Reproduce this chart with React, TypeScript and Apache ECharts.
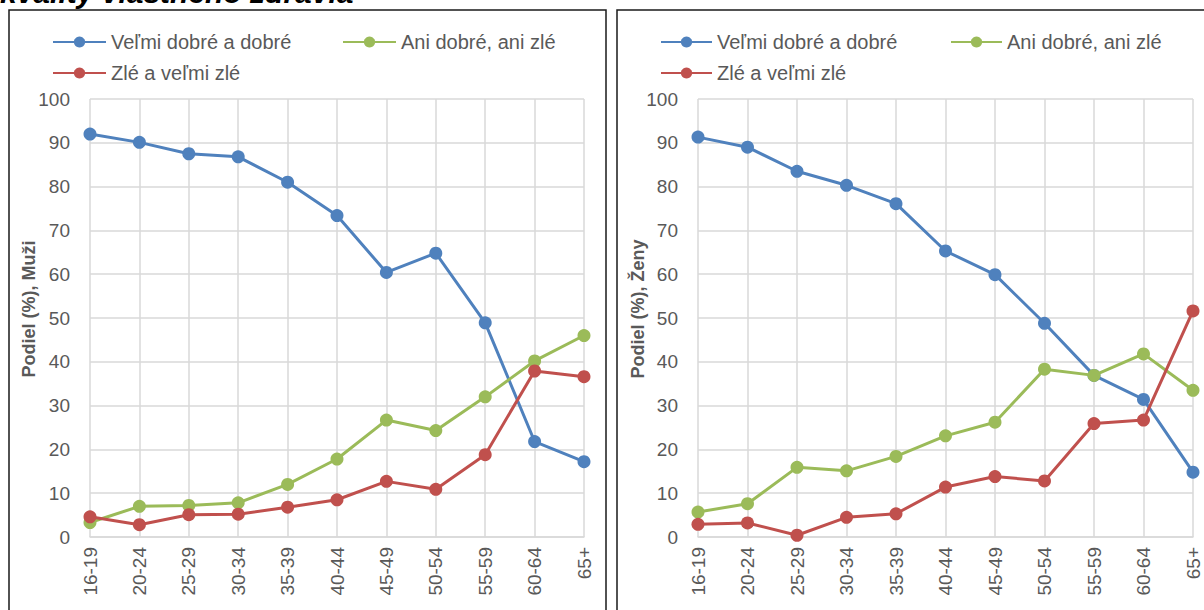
import React, { useEffect, useRef } from "react";
import * as echarts from "echarts";

const categories = ["16-19", "20-24", "25-29", "30-34", "35-39", "40-44", "45-49", "50-54", "55-59", "60-64", "65+"];
const seriesNames = ["Veľmi dobré a dobré", "Ani dobré, ani zlé", "Zlé a veľmi zlé"];

const menGood = [92.0, 90.1, 87.5, 86.8, 81.0, 73.4, 60.4, 64.8, 48.9, 21.8, 17.2];
const menNeutral = [3.3, 7.0, 7.2, 7.8, 12.0, 17.8, 26.7, 24.3, 32.0, 40.2, 46.0];
const menBad = [4.6, 2.8, 5.1, 5.2, 6.8, 8.5, 12.7, 10.9, 18.8, 37.9, 36.6];

const womenGood = [91.3, 89.0, 83.5, 80.3, 76.1, 65.3, 59.9, 48.8, 36.9, 31.4, 14.8];
const womenNeutral = [5.7, 7.6, 15.9, 15.1, 18.4, 23.1, 26.2, 38.3, 36.9, 41.8, 33.5];
const womenBad = [2.9, 3.2, 0.4, 4.5, 5.3, 11.4, 13.8, 12.8, 25.9, 26.7, 51.6];

const yTicks = [0, 10, 20, 30, 40, 50, 60, 70, 80, 90, 100];

const titleText = "kvality vlastného zdravia";
const yNames = ["Podiel (%), Muži", "Podiel (%), Ženy"];

const colors = ["#4f81bd", "#9bbb59", "#c0504d"];
const textColor = "#595959";
const gridColor = "#d9d9d9";
const FONT = "'Liberation Sans', Arial, sans-serif";

export default function App() {
  const ref = useRef<HTMLDivElement>(null);
  useEffect(() => {
    if (!ref.current) return;
    const chart = echarts.init(ref.current, undefined, { renderer: "svg" });
    const grids = [
      { left: 90, right: 1204 - 584, top: 99, bottom: 610 - 537 },
      { left: 698, right: 1204 - 1193, top: 99, bottom: 610 - 537 },
    ];
    const xAxes = grids.map((_, i) => ({
      type: "category",
      gridIndex: i,
      data: categories,
      boundaryGap: false,
      axisLine: { show: true, lineStyle: { color: gridColor, width: 1.5 } },
      axisTick: { show: false },
      axisLabel: { rotate: 90, color: textColor, fontSize: 19, fontFamily: FONT, margin: 10, interval: 0 },
      splitLine: { show: true, lineStyle: { color: gridColor, width: 1.5 } },
    }));
    const yAxes = grids.map((_, i) => ({
      type: "value",
      gridIndex: i,
      min: yTicks[0],
      max: yTicks[yTicks.length - 1],
      interval: 10,
      axisLine: { show: false },
      axisTick: { show: false },
      axisLabel: { color: textColor, fontSize: 19, fontFamily: FONT, margin: 20 },
      splitLine: { show: true, lineStyle: { color: gridColor, width: 1.5 } },
    }));
    const panels = [
      [menGood, menNeutral, menBad],
      [womenGood, womenNeutral, womenBad],
    ];
    const series: any[] = [];
    panels.forEach((p, pi) => {
      p.forEach((d, si) => {
        series.push({
          type: "line",
          name: seriesNames[si],
          xAxisIndex: pi,
          yAxisIndex: pi,
          data: d,
          symbol: "circle",
          symbolSize: 13,
          color: colors[si],
          lineStyle: { width: 3, color: colors[si] },
          itemStyle: { color: colors[si] },
          z: 3 + si,
        });
      });
    });
    const legendBase = {
      orient: "horizontal",
      padding: 0,
      itemHeight: 14,
      textStyle: { color: textColor, fontSize: 20, fontFamily: FONT, lineHeight: 22 },
      selectedMode: false,
    };
    const legends = [
      { ...legendBase, left: 52, top: 31, itemWidth: 53, data: [seriesNames[0]] },
      { ...legendBase, left: 342, top: 31, itemWidth: 53, data: [seriesNames[1]] },
      { ...legendBase, left: 52, top: 62, itemWidth: 53, data: [seriesNames[2]] },
      { ...legendBase, left: 660, top: 31, itemWidth: 51, data: [seriesNames[0]] },
      { ...legendBase, left: 950, top: 31, itemWidth: 51, data: [seriesNames[1]] },
      { ...legendBase, left: 660, top: 62, itemWidth: 51, data: [seriesNames[2]] },
    ];
    chart.setOption({
      animation: false,
      backgroundColor: "#ffffff",
      grid: grids,
      xAxis: xAxes,
      yAxis: yAxes,
      legend: legends,
      series,
      graphic: [
        {
          type: "rect",
          shape: { x: 9, y: 10, width: 597, height: 620 },
          style: { fill: "none", stroke: "#1a1a1a", lineWidth: 1.5 },
          silent: true,
        },
        {
          type: "rect",
          shape: { x: 617, y: 10, width: 620, height: 620 },
          style: { fill: "none", stroke: "#1a1a1a", lineWidth: 1.5 },
          silent: true,
        },
        {
          type: "text",
          x: 0,
          y: -8,
          style: {
            text: titleText,
            font: "italic bold 30px " + FONT,
            fill: "#000000",
            align: "left",
            verticalAlign: "middle",
          },
        },
        {
          type: "text",
          x: 29,
          y: 309,
          rotation: Math.PI / 2,
          style: {
            text: yNames[0],
            font: "bold 18px " + FONT,
            fill: textColor,
            align: "center",
            verticalAlign: "middle",
          },
        },
        {
          type: "text",
          x: 638,
          y: 309,
          rotation: Math.PI / 2,
          style: {
            text: yNames[1],
            font: "bold 18px " + FONT,
            fill: textColor,
            align: "center",
            verticalAlign: "middle",
          },
        },
      ],
    });
    return () => chart.dispose();
  }, []);
  return <div ref={ref} style={{ position: "fixed", left: 0, top: 0, width: 1204, height: 610 }} />;
}
